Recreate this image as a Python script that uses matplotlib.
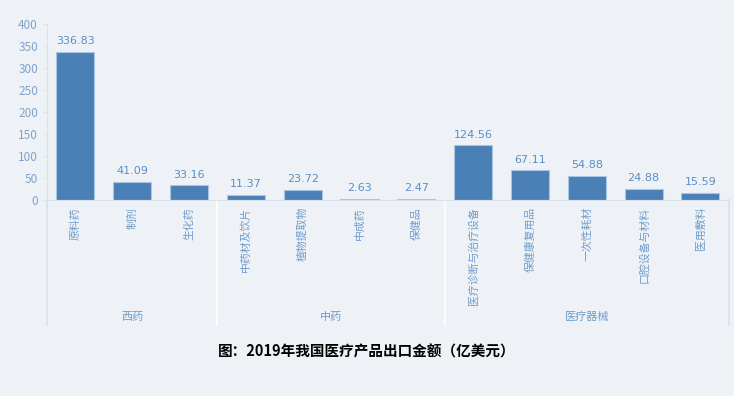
import matplotlib
matplotlib.use("Agg")
import matplotlib.pyplot as plt
import matplotlib.transforms as mtransforms

plt.rcParams['font.family'] = ['Noto Sans CJK SC', 'DejaVu Sans']

# data
groups = ['西药', '中药', '医疗器械']
group_sizes = [3, 4, 5]
categories = ['原料药', '制剂', '生化药',
              '中药材及饮片', '植物提取物', '中成药', '保健品',
              '医疗诊断与治疗设备', '保健康复用品', '一次性耗材', '口腔设备与材料', '医用敷料']
values = [336.83, 41.09, 33.16,
          11.37, 23.72, 2.63, 2.47,
          124.56, 67.11, 54.88, 24.88, 15.59]
title = '图：2019年我国医疗产品出口金额（亿美元）'

bg = '#eef2f6'
bar_col = '#4a80b5'
txt_col = '#6f9bcb'
line_col = '#d6e2ee'

fig = plt.figure(figsize=(7.34, 3.96), dpi=100, facecolor=bg)
ax = fig.add_axes([0.064, 0.495, 0.929, 0.444], facecolor=bg)

x = list(range(len(categories)))
bars = ax.bar(x, values, width=0.67, color=bar_col, edgecolor='#a9c6e4', linewidth=0.8)
for xi, v in zip(x, values):
    ax.text(xi, v + 13, f"{v:.2f}", ha='center', va='bottom', fontsize=8,
            color='#5b8ec4', family='DejaVu Sans')

ax.set_xlim(-0.5, len(categories) - 0.5)
ax.set_ylim(0, 400)
ax.set_yticks(range(0, 401, 50))
ax.tick_params(axis='y', colors=line_col, labelcolor='#7fa3cc', labelsize=8.5, length=3)
ax.tick_params(axis='x', length=0, pad=5)
ax.set_xticks(x)
ax.set_xticklabels(categories, rotation=90, fontsize=7.8, color=txt_col, va='top', ha='center')

for s in ['top', 'right']:
    ax.spines[s].set_visible(False)
ax.spines['left'].set_color(line_col)
ax.spines['bottom'].set_color(line_col)

# group separators and labels
trans = mtransforms.blended_transform_factory(ax.transData, ax.transAxes)
start = 0
bounds = [-0.5]
for name, n in zip(groups, group_sizes):
    end = start + n
    bounds.append(end - 0.5)
    ax.text((start + end - 1) / 2, -0.665, name, transform=trans, ha='center', va='center',
            fontsize=8, color=txt_col, clip_on=False)
    start = end
for i, b in enumerate(bounds):
    c = line_col if i in (0, len(bounds) - 1) else 'white'
    ax.plot([b, b], [0, -0.71], transform=trans, color=c, linewidth=1.2, clip_on=False)

fig.text(0.5, 0.112, title, ha='center', va='center', fontsize=10.5, fontweight='bold', color='black')

fig.savefig('out.png', dpi=100, facecolor=bg)
